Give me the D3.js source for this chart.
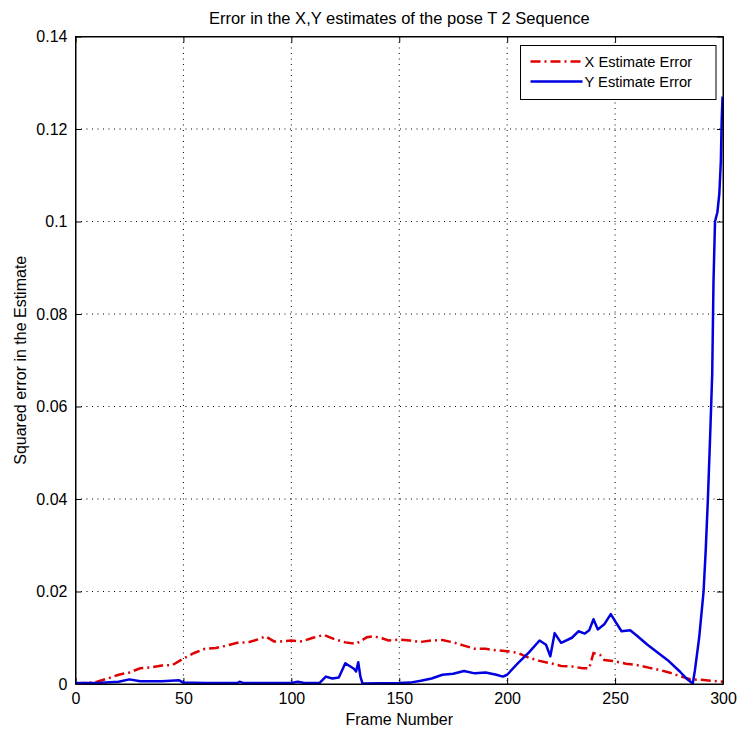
<!DOCTYPE html>
<html>
<head>
<meta charset="utf-8">
<script src="https://cdn.jsdelivr.net/npm/d3@7"></script>
<style>
  html, body { margin: 0; padding: 0; background: #fff; }
  text { font-family: "Liberation Sans", Arial, sans-serif; fill: #000; }
</style>
</head>
<body>
<svg id="chart" width="737" height="731"></svg>
<script>
// values: [frame, squared error]
const xError = [
  [0, 0.0001], [5, 0.0002], [10, 0.0005], [15, 0.0012], [20, 0.0020], [25, 0.0025],
  [30, 0.0034], [35, 0.0036], [40, 0.0040], [45, 0.0041], [50, 0.0055], [55, 0.0067],
  [60, 0.0076], [65, 0.0078], [70, 0.0083], [75, 0.0089], [80, 0.0090], [85, 0.0097],
  [88, 0.0103], [92, 0.0092], [95, 0.0092], [100, 0.0094], [105, 0.0092], [110, 0.0100],
  [115, 0.0106], [120, 0.0097], [125, 0.0090], [130, 0.0087], [135, 0.0101], [138, 0.0103],
  [142, 0.0099], [145, 0.0094], [150, 0.0096], [155, 0.0094], [160, 0.0091], [165, 0.0094],
  [170, 0.0095], [175, 0.0090], [180, 0.0083], [185, 0.0076], [190, 0.0076], [195, 0.0073],
  [200, 0.0071], [205, 0.0067], [210, 0.0057], [215, 0.0050], [220, 0.0045], [225, 0.0039],
  [230, 0.0038], [235, 0.0034], [238, 0.0034], [240, 0.0067], [243, 0.0063], [245, 0.0052],
  [250, 0.0049], [255, 0.0044], [260, 0.0041], [265, 0.0036], [270, 0.0031], [275, 0.0025],
  [280, 0.0017], [285, 0.0010], [290, 0.0009], [295, 0.0007], [300, 0.0005]
];

const yError = [
  [0, 0.0002], [10, 0.0002], [20, 0.0005], [25, 0.0010], [30, 0.0006], [40, 0.0006],
  [48, 0.0008], [50, 0.0003], [60, 0.0002], [75, 0.0002], [76, 0.0005], [78, 0.0002],
  [100, 0.0002], [103, 0.0005], [106, 0.0002], [113, 0.0002], [116, 0.0016], [119, 0.0012],
  [122, 0.0014], [125, 0.0045], [127, 0.0039], [129, 0.0033], [130, 0.0027], [131, 0.0047],
  [132, 0.0016], [133, 0.0001], [150, 0.0002], [155, 0.0003], [160, 0.0007], [165, 0.0012],
  [170, 0.0020], [175, 0.0022], [180, 0.0028], [185, 0.0023], [190, 0.0025], [195, 0.0020],
  [198, 0.0016], [200, 0.0020], [205, 0.0045], [210, 0.0068], [215, 0.0094], [218, 0.0085],
  [220, 0.0060], [222, 0.0110], [225, 0.0089], [230, 0.0100], [233, 0.0114], [236, 0.0109],
  [238, 0.0116], [240, 0.0140], [242, 0.0118], [245, 0.0129], [248, 0.0151], [250, 0.0136],
  [253, 0.0114], [257, 0.0116], [260, 0.0105], [265, 0.0085], [270, 0.0067], [275, 0.0049],
  [280, 0.0027], [283, 0.0012], [286, 0.0001], [287, 0.0030], [289, 0.0102], [291, 0.0200],
  [292, 0.0290], [293, 0.0400], [294, 0.0530], [295, 0.0670], [295.6, 0.0870], [296.3, 0.1000],
  [297.4, 0.1020], [298.3, 0.1060], [299, 0.1130], [299.4, 0.1220], [299.8, 0.1270]
];

const xTicks = [0, 50, 100, 150, 200, 250, 300];
const yTicks = [0, 0.02, 0.04, 0.06, 0.08, 0.1, 0.12, 0.14];
const seriesNames = ["X Estimate Error", "Y Estimate Error"];

const svg = d3.select("#chart");
const margin = {top: 36.5, right: 14, bottom: 47, left: 75.5},
  width = 737 - margin.left - margin.right,
  height = 731 - margin.top - margin.bottom;

const x = d3.scaleLinear().domain([0, 300]).range([0, width]);
const y = d3.scaleLinear().domain([0, 0.14]).range([height, 0]);

const g = svg.append("g").attr("transform", `translate(${margin.left},${margin.top})`);

// dotted grid
g.append("g").selectAll("line.vg").data(xTicks.slice(1, -1)).join("line")
  .attr("x1", d => x(d)).attr("x2", d => x(d)).attr("y1", 0).attr("y2", height)
  .attr("stroke", "#000").attr("stroke-width", 1).attr("stroke-dasharray", "1,4.5");
g.append("g").selectAll("line.hg").data(yTicks.slice(1, -1)).join("line")
  .attr("x1", 0).attr("x2", width).attr("y1", d => y(d)).attr("y2", d => y(d))
  .attr("stroke", "#000").attr("stroke-width", 1).attr("stroke-dasharray", "1,4.5");

// axes, ticks pointing inward like matlab
const fmtY = d => d === 0 ? "0" : d3.format("~g")(d);
const axisFont = 16;
g.append("g").attr("transform", `translate(0,${height})`)
  .call(d3.axisBottom(x).tickValues(xTicks).tickSizeInner(-6).tickSizeOuter(0).tickPadding(9))
  .call(a => a.selectAll("text").attr("font-size", axisFont).attr("font-family", "Liberation Sans, Arial, sans-serif"));
g.append("g")
  .call(d3.axisLeft(y).tickValues(yTicks).tickFormat(fmtY).tickSizeInner(-6).tickSizeOuter(0).tickPadding(8))
  .call(a => a.selectAll("text").attr("font-size", axisFont).attr("font-family", "Liberation Sans, Arial, sans-serif"));
g.append("g")
  .call(d3.axisTop(x).tickValues(xTicks).tickSizeInner(-6).tickSizeOuter(0).tickFormat(""));
g.append("g").attr("transform", `translate(${width},0)`)
  .call(d3.axisRight(y).tickValues(yTicks).tickSizeInner(-6).tickSizeOuter(0).tickFormat(""));
g.selectAll(".domain").attr("stroke", "#000");
g.selectAll(".tick line").attr("stroke", "#000");

const line = d3.line().x(d => x(d[0])).y(d => y(d[1]));

g.append("path").datum(xError)
  .attr("d", line).attr("fill", "none")
  .attr("stroke", "#e00000").attr("stroke-width", 2.5)
  .attr("stroke-dasharray", "10,4,2,4");

g.append("path").datum(yError)
  .attr("d", line).attr("fill", "none")
  .attr("stroke", "#0000e0").attr("stroke-width", 2.5)
  .attr("stroke-linejoin", "round");

// frame box on top
g.append("rect").attr("width", width).attr("height", height)
  .attr("fill", "none").attr("stroke", "#000").attr("stroke-width", 1);

// title and labels
svg.append("text").attr("x", margin.left + width / 2).attr("y", 24)
  .attr("text-anchor", "middle").attr("font-size", 16.5)
  .text("Error in the X,Y estimates of the pose T 2 Sequence");
svg.append("text").attr("x", margin.left + width / 2).attr("y", 725)
  .attr("text-anchor", "middle").attr("font-size", 16)
  .text("Frame Number");
svg.append("text")
  .attr("transform", `translate(26,${margin.top + height / 2}) rotate(-90)`)
  .attr("text-anchor", "middle").attr("font-size", 16)
  .text("Squared error in the Estimate");

// legend
const lg = svg.append("g").attr("transform", "translate(520.5,45.5)");
lg.append("rect").attr("width", 195.5).attr("height", 54)
  .attr("fill", "#fff").attr("stroke", "#000").attr("stroke-width", 1);
const legendStyles = [
  {color: "#e00000", dash: "10,4,2,4"},
  {color: "#0000e0", dash: null}
];
seriesNames.forEach((name, i) => {
  const yy = 16 + i * 20;
  lg.append("line").attr("x1", 10).attr("x2", 62).attr("y1", yy).attr("y2", yy)
    .attr("stroke", legendStyles[i].color).attr("stroke-width", 2.5)
    .attr("stroke-dasharray", legendStyles[i].dash);
  lg.append("text").attr("x", 64).attr("y", yy + 5.5).attr("font-size", 14.7).text(name);
});
</script>
</body>
</html>
